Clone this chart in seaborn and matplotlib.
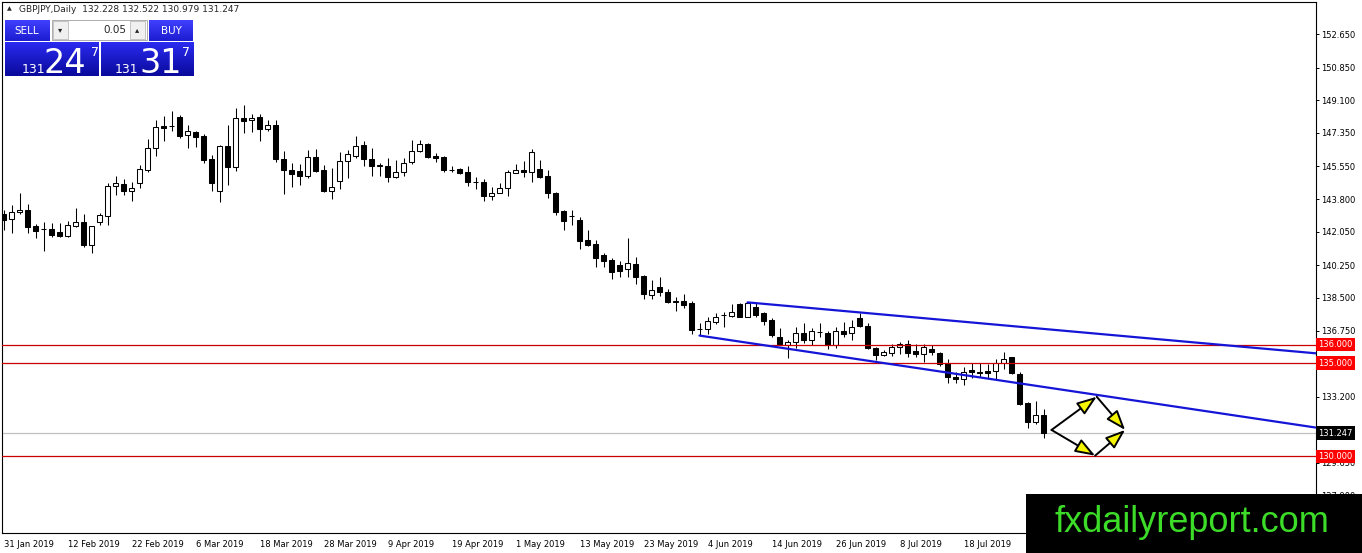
import numpy as np
import pandas as pd
import matplotlib
matplotlib.use('Agg')
import matplotlib.pyplot as plt
from matplotlib.patches import Rectangle
from matplotlib.colors import LinearSegmentedColormap
import seaborn as sns


# Daily GBPJPY bars, 31 Jan 2019 onwards (weekdays)
opens = [142.99, 142.71, 143.09, 143.21, 142.35, 142.20, 142.21, 142.03, 141.82, 142.37,
         142.57, 141.34, 142.55, 142.91, 144.48, 144.61, 144.25, 144.65, 145.36, 146.52,
         147.72, 147.71, 148.22, 147.22, 147.38, 147.20, 145.95, 144.25, 146.64, 145.50,
         148.15, 148.02, 148.18, 147.57, 147.77, 145.93, 145.34, 145.30, 145.05, 146.04,
         145.34, 144.25, 144.77, 145.86, 146.12, 146.70, 145.95, 145.59, 145.57, 145.00,
         145.23, 145.77, 146.39, 146.75, 146.11, 146.05, 145.36, 145.39, 145.27, 144.70,
         144.70, 143.98, 144.14, 144.38, 145.21, 145.36, 145.27, 145.39, 145.04, 144.14,
         143.18, 142.88, 142.68, 141.60, 141.39, 140.80, 140.53, 140.25, 140.03, 140.32,
         139.67, 138.64, 139.10, 138.82, 138.28, 138.33, 138.21, 136.81, 136.83, 137.19,
         137.57, 137.55, 138.16, 137.49, 138.03, 137.67, 137.32, 136.42, 135.97, 136.12,
         136.60, 136.24, 136.65, 136.60, 135.97, 136.74, 136.63, 137.41, 137.01, 135.80,
         135.44, 135.56, 135.85, 136.01, 135.65, 135.49, 135.76, 135.56, 134.99, 134.27,
         134.13, 134.63, 134.49, 134.58, 134.58, 134.99, 135.31, 134.42, 132.85, 131.86,
         132.23]
highs = [143.21, 143.47, 144.11, 143.52, 142.46, 142.55, 142.50, 142.50, 142.62, 143.32,
         142.99, 142.38, 143.04, 144.64, 145.04, 144.86, 144.73, 145.63, 147.02, 148.04,
         148.27, 148.52, 148.31, 147.77, 147.45, 147.27, 146.16, 146.70, 147.77, 148.67,
         148.84, 148.34, 148.34, 148.04, 148.04, 146.38, 145.72, 145.66, 146.43, 146.48,
         145.63, 145.48, 146.34, 146.43, 147.18, 146.91, 146.55, 145.75, 145.98, 145.89,
         145.98, 146.97, 146.97, 146.79, 146.29, 146.11, 145.59, 145.48, 145.59, 145.00,
         144.87, 144.47, 144.65, 145.36, 145.66, 145.84, 146.48, 145.89, 145.36, 144.19,
         143.21, 143.21, 142.82, 142.14, 141.60, 140.89, 140.62, 140.49, 141.73, 140.71,
         139.73, 139.46, 139.64, 138.98, 138.56, 138.69, 138.31, 137.14, 137.46, 137.71,
         137.76, 138.16, 138.24, 138.30, 138.21, 137.76, 137.41, 136.87, 136.24, 136.92,
         137.14, 136.87, 137.17, 136.74, 136.92, 137.23, 137.32, 137.67, 137.15, 135.88,
         135.71, 136.03, 136.15, 136.24, 136.03, 136.03, 135.97, 135.62, 135.21, 134.54,
         134.78, 134.99, 135.03, 134.96, 135.21, 135.58, 135.35, 134.54, 132.93, 132.99,
         132.52]
lows = [142.14, 142.00, 142.98, 141.96, 141.70, 141.03, 141.75, 141.78, 141.78, 142.32,
        141.25, 140.92, 142.41, 142.41, 144.02, 144.02, 143.71, 144.38, 145.27, 146.11,
        146.93, 147.47, 147.06, 146.55, 146.61, 145.72, 144.25, 143.66, 144.55, 145.32,
        147.33, 147.38, 146.93, 147.47, 145.80, 144.09, 144.47, 144.55, 144.95, 145.27,
        144.20, 143.80, 144.33, 144.91, 145.98, 145.59, 145.05, 145.05, 144.73, 144.91,
        145.05, 145.66, 146.31, 145.98, 145.77, 145.23, 145.23, 145.13, 144.52, 144.34,
        143.70, 143.75, 144.14, 143.98, 145.18, 145.00, 144.73, 144.95, 143.84, 142.94,
        142.14, 142.41, 141.12, 141.28, 140.14, 140.14, 139.50, 139.64, 139.60, 139.24,
        138.44, 138.44, 138.62, 138.21, 137.81, 137.97, 136.56, 136.51, 136.55, 137.08,
        136.92, 137.49, 137.46, 137.46, 137.49, 137.05, 136.42, 135.97, 135.29, 135.80,
        136.07, 135.97, 136.42, 135.74, 135.80, 136.42, 136.24, 136.95, 135.74, 135.17,
        135.38, 135.40, 135.49, 135.31, 135.35, 135.05, 135.44, 134.85, 133.92, 133.92,
        133.83, 134.19, 134.27, 134.19, 134.13, 134.67, 134.42, 132.76, 131.51, 131.74,
        130.98]
closes = [142.68, 143.12, 143.21, 142.32, 142.10, 142.18, 141.87, 141.82, 142.39, 142.57,
          141.34, 142.35, 142.94, 144.50, 144.66, 144.25, 144.41, 145.41, 146.52, 147.65,
          147.63, 147.73, 147.20, 147.45, 147.14, 145.89, 144.65, 146.64, 145.50, 148.13,
          148.00, 148.15, 147.57, 147.77, 145.93, 145.34, 145.16, 145.05, 146.04, 145.32,
          144.25, 144.43, 145.86, 146.20, 146.64, 145.93, 145.59, 145.62, 145.00, 145.23,
          145.72, 146.38, 146.74, 146.05, 146.00, 145.37, 145.34, 145.21, 144.70, 144.72,
          143.98, 144.11, 144.38, 145.23, 145.36, 145.27, 146.34, 145.00, 144.11, 143.12,
          142.64, 142.90, 141.57, 141.34, 140.66, 140.50, 139.90, 139.96, 140.35, 139.64,
          138.69, 138.92, 138.80, 138.30, 138.30, 138.12, 136.78, 136.83, 137.26, 137.49,
          137.59, 137.73, 137.49, 138.21, 137.58, 137.28, 136.51, 136.03, 136.12, 136.63,
          136.24, 136.73, 136.67, 135.97, 136.74, 136.56, 136.95, 137.01, 135.80, 135.44,
          135.60, 135.85, 136.03, 135.56, 135.49, 135.85, 135.62, 134.96, 134.24, 134.13,
          134.54, 134.54, 134.47, 134.49, 134.99, 135.21, 134.49, 132.81, 131.86, 132.22,
          131.25]

date_labels = ['31 Jan 2019', '12 Feb 2019', '22 Feb 2019', '6 Mar 2019',
               '18 Mar 2019', '28 Mar 2019', '9 Apr 2019', '19 Apr 2019',
               '1 May 2019', '13 May 2019', '23 May 2019', '4 Jun 2019',
               '14 Jun 2019', '26 Jun 2019', '8 Jul 2019', '18 Jul 2019']
# 134.950 sits fully under the 135.000 tag in the reference, so it is left out
price_ticks = [152.65, 150.85, 149.10, 147.35, 145.55, 143.80, 142.05, 140.25,
               138.50, 136.75, 133.20, 131.45, 129.65, 127.90]

# Drawn objects on the chart
levels = [136.0, 135.0, 130.0]
last_price = 131.247
upper_trend_bar = [93, 164]
upper_trend_price = [138.26, 135.53]
lower_trend_bar = [87, 164]
lower_trend_price = [136.48, 131.55]
# scenario arrows: start vertex -> end vertex
arrow_from = [(131.0, 131.42), (136.65, 133.20), (131.0, 131.42), (136.45, 130.04)]
arrow_to = [(136.65, 133.20), (140.2, 131.42), (136.45, 130.04), (140.2, 131.42)]

df = pd.DataFrame({'open': opens, 'high': highs, 'low': lows, 'close': closes})
df['bar'] = np.arange(len(df))
df['up'] = df['close'] >= df['open']
df['body_lo'] = df[['open', 'close']].min(axis=1)
df['body_h'] = (df['close'] - df['open']).abs().clip(lower=0.03)

W, H = 1362, 553
sns.set_style('white')
plt.rcParams['font.family'] = ['DejaVu Sans']

fig = plt.figure(figsize=(W / 100, H / 100), dpi=100)
ax = fig.add_axes([2 / W, 1 - 533 / H, 1314 / W, 531 / H])

# candles
ax.vlines(df['bar'], df['low'], df['high'], color='black', lw=0.75, zorder=2)
ax.bar(df['bar'], df['body_h'], bottom=df['body_lo'], width=0.6,
       color=np.where(df['up'], 'white', 'black'), edgecolor='black',
       linewidth=0.75, zorder=3)

# horizontal levels
for lv in levels:
    ax.axhline(lv, color='#cc0000', lw=0.9, zorder=4)
    ax.text(1.0015, lv, f'{lv:.3f}', transform=ax.get_yaxis_transform(),
            color='white', fontsize=6, va='center', ha='left', zorder=6,
            clip_on=False,
            bbox=dict(boxstyle='square,pad=0.28', fc='#ff0000', ec='none'))
ax.axhline(last_price, color='#c0c0c0', lw=0.9, zorder=1)
ax.text(1.0015, last_price, f'{last_price:.3f}', transform=ax.get_yaxis_transform(),
        color='white', fontsize=6, va='center', ha='left', zorder=6, clip_on=False,
        bbox=dict(boxstyle='square,pad=0.28', fc='black', ec='none'))

# trend lines
sns.lineplot(x=upper_trend_bar, y=upper_trend_price, color='#1515d8', lw=1.6,
             ax=ax, zorder=4)
sns.lineplot(x=lower_trend_bar, y=lower_trend_price, color='#1515d8', lw=1.6,
             ax=ax, zorder=4)

# scenario arrows
for a, b in zip(arrow_from, arrow_to):
    ax.annotate('', xy=b, xytext=a, zorder=5,
                arrowprops=dict(arrowstyle='-|>,head_length=1.1,head_width=0.4',
                                mutation_scale=11, fc='#f5f500', ec='black',
                                lw=1.4, shrinkA=0, shrinkB=0))

ax.set_xlim(-0.1875, 164.06)
ax.set_ylim(125.894, 154.366)
ax.yaxis.tick_right()
ax.set_yticks(price_ticks)
ax.set_yticklabels([f'{t:.3f}' for t in price_ticks])
ax.set_xticks(np.arange(len(date_labels)) * 8)
ax.set_xticklabels(date_labels, ha='left')
ax.tick_params(axis='both', direction='out', length=2.5, width=0.7,
               labelsize=6, pad=1.5, colors='black')
ax.tick_params(axis='x', pad=2.5)
ax.set_xlabel('')
ax.set_ylabel('')
for s in ax.spines.values():
    s.set_color('black')
    s.set_linewidth(0.8)

# header line
ax.text(5 / 1314, 1 - 7 / 531, '\u25b2', transform=ax.transAxes, fontsize=4.5,
        va='center', ha='left')
ax.text(17 / 1314, 1 - 7 / 531, 'GBPJPY,Daily  132.228 132.522 130.979 131.247',
        transform=ax.transAxes, fontsize=6.5, va='center', ha='left')


# one-click trading panel
def fx(x):
    return x / W


def fy(y):
    return 1 - y / H


def gradient_box(x0, y0, x1, y1, c_top, c_bot):
    a = fig.add_axes([fx(x0), fy(y1), (x1 - x0) / W, (y1 - y0) / H], zorder=5)
    cmap = LinearSegmentedColormap.from_list('btn', [c_top, c_bot])
    a.imshow(np.linspace(0, 1, 40).reshape(-1, 1), aspect='auto', cmap=cmap,
             extent=[0, 1, 0, 1], origin='upper')
    a.set_axis_off()


gradient_box(5, 20, 50, 41, '#4040ff', '#1c1cd0')
gradient_box(149, 20, 193, 41, '#4040ff', '#1c1cd0')
gradient_box(5, 42, 99, 76, '#2a2af0', '#0a0a9c')
gradient_box(101, 42, 193, 76, '#2a2af0', '#0a0a9c')
fig.add_artist(Rectangle((fx(52), fy(40)), 95 / W, 20 / H, transform=fig.transFigure,
                         fc='white', ec='#a0a0a0', lw=0.6, zorder=6))
for bx in [53, 130]:
    fig.add_artist(Rectangle((fx(bx), fy(39)), 15 / W, 18 / H,
                             transform=fig.transFigure, fc='#f0f0f0',
                             ec='#b0b0b0', lw=0.5, zorder=7))
fig.text(fx(60.5), fy(30), '\u25be', fontsize=6, ha='center', va='center', zorder=8)
fig.text(fx(137.5), fy(30), '\u25b4', fontsize=6, ha='center', va='center', zorder=8)
fig.text(fx(126), fy(30), '0.05', fontsize=7.5, ha='right', va='center', zorder=8)
fig.text(fx(27), fy(30.5), 'SELL', fontsize=7.5, color='white', ha='center',
         va='center', zorder=8)
fig.text(fx(171), fy(30.5), 'BUY', fontsize=7.5, color='white', ha='center',
         va='center', zorder=8)
for x_small, x_big, x_sup, big in [(22, 43, 91, '24'), (115, 139, 182, '31')]:
    fig.text(fx(x_small), fy(73), '131', fontsize=9, color='white', ha='left',
             va='baseline', zorder=8)
    fig.text(fx(x_big), fy(73), big, fontsize=24, color='white', ha='left',
             va='baseline', zorder=8)
    fig.text(fx(x_sup), fy(56), '7', fontsize=9, color='white', ha='left',
             va='baseline', zorder=8)

# watermark box
fig.add_artist(Rectangle((fx(1026), 0), (W - 1026) / W, 59 / H,
                         transform=fig.transFigure, fc='black', ec='none', zorder=10))
fig.text(fx(1192), fy(532), 'fxdailyreport.com', color='#3cdc28', fontsize=26,
         family=['Liberation Sans', 'DejaVu Sans'], ha='center', va='baseline',
         zorder=11)

fig.savefig('out.png', dpi=100, facecolor='white')
